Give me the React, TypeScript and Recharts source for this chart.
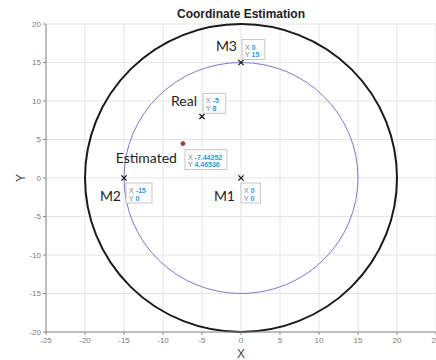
import { ScatterChart, Scatter, XAxis, YAxis, CartesianGrid, ReferenceArea, Label } from 'recharts';

const xTicks = [-25, -20, -15, -10, -5, 0, 5, 10, 15, 20, 25];
const yTicks = [-20, -15, -10, -5, 0, 5, 10, 15, 20];

// microphones + real source position
const markerNames = ['M1', 'M2', 'M3', 'Real'];
const markerX = [0, -15, 0, -5];
const markerY = [0, 0, 15, 8];

// estimated source position
const estimatedNames = ['Estimated'];
const estimatedX = [-7.44252];
const estimatedY = [4.46536];

// range circles centred on the origin
const circleRadii = [20, 15];
const CIRCLE_STYLE = [
  { stroke: '#1a1a1a', width: 2 },
  { stroke: '#7c7ad0', width: 1 },
];

// pixel offsets of text label (right edge) and datatip box from the marker
const PLACEMENT: Record<string, { lx: number; ly: number; tx: number; ty: number }> = {
  M1: { lx: -6, ly: 17, tx: 0, ty: 5 },
  M2: { lx: -3, ly: 17, tx: 2, ty: 5 },
  M3: { lx: -4, ly: -17, tx: 1, ty: -23 },
  Real: { lx: -5, ly: -16, tx: 1, ty: -23 },
  Estimated: { lx: -6, ly: 14, tx: 2, ty: 6 },
};

const markers = markerNames.map((name, i) => ({ name, x: markerX[i], y: markerY[i] }));
const estimated = estimatedNames.map((name, i) => ({ name, x: estimatedX[i], y: estimatedY[i] }));

function Datatip({ x, y, vx, vy }: { x: number; y: number; vx: number; vy: number }) {
  const sx = String(vx);
  const sy = String(vy);
  const chars = Math.max(sx.length, sy.length) + 2;
  const w = 10 + chars * 3.2;
  const h = 20;
  return (
    <g fontFamily="Liberation Sans, Arial, sans-serif" fontSize={7}>
      <rect x={x} y={y} width={w} height={h} fill="#fbfbfb" stroke="#c8c8c8" strokeWidth={1} />
      <text x={x + 3} y={y + 7} dominantBaseline="central">
        <tspan fill="#8a8a8a">X </tspan>
        <tspan fill="#2a9fe0" fontWeight="bold">{sx}</tspan>
      </text>
      <text x={x + 3} y={y + 14.5} dominantBaseline="central">
        <tspan fill="#8a8a8a">Y </tspan>
        <tspan fill="#2a9fe0" fontWeight="bold">{sy}</tspan>
      </text>
    </g>
  );
}

function Annotated({ cx, cy, payload, children }: any) {
  const p = PLACEMENT[payload.name];
  return (
    <g>
      {children}
      <text
        x={cx + p.lx}
        y={cy + p.ly}
        textAnchor="end"
        dominantBaseline="central"
        fontFamily="Lato, sans-serif"
        fontSize={14}
        fill="#1e1e1e"
      >
        {payload.name}
      </text>
      <Datatip x={cx + p.tx} y={cy + p.ty} vx={payload.x} vy={payload.y} />
    </g>
  );
}

function CrossShape(props: any) {
  const { cx, cy } = props;
  const s = 2.6;
  return (
    <Annotated {...props}>
      <path d={`M${cx - s},${cy - s}L${cx + s},${cy + s}M${cx - s},${cy + s}L${cx + s},${cy - s}`} stroke="#111" strokeWidth={1.2} />
    </Annotated>
  );
}

function StarShape(props: any) {
  const { cx, cy } = props;
  return (
    <Annotated {...props}>
      <circle cx={cx} cy={cy} r={2} fill="#b83a3a" stroke="#7a1a1a" strokeWidth={0.7} />
    </Annotated>
  );
}

const tick = { fontSize: 8, fill: '#7a7a7a', fontFamily: 'Liberation Sans, Arial, sans-serif' };

export default function App() {
  return (
    <div style={{ position: 'absolute', left: 0, top: 0, width: 436, height: 360, overflow: 'hidden', background: '#fff' }}>
      <div
        style={{
          position: 'absolute',
          left: 46,
          width: 390,
          top: 7,
          textAlign: 'center',
          fontFamily: 'Liberation Sans, Arial, sans-serif',
          fontWeight: 'bold',
          fontSize: 12,
          lineHeight: '14px',
          color: '#222',
        }}
      >
        Coordinate Estimation
      </div>
      <ScatterChart width={446} height={360} margin={{ top: 24, right: 10, bottom: 0, left: 0 }}>
        <CartesianGrid stroke="#e4e4e4" strokeWidth={1} />
        <XAxis
          type="number"
          dataKey="x"
          domain={[-25, 25]}
          ticks={xTicks}
          tick={tick}
          height={28}
          stroke="#8a8a8a"
          tickSize={3}
          tickMargin={2}
        >
          <Label value="X" position="insideBottom" offset={2} style={{ fontSize: 12, fill: '#444', fontFamily: 'Liberation Sans, Arial, sans-serif' }} />
        </XAxis>
        <YAxis
          type="number"
          dataKey="y"
          domain={[-20, 20]}
          ticks={yTicks}
          tick={tick}
          width={46}
          stroke="#8a8a8a"
          tickSize={3}
          tickMargin={2}
        >
          <Label value="Y" angle={-90} position="center" dx={-2} style={{ fontSize: 12, fill: '#444', fontFamily: 'Liberation Sans, Arial, sans-serif' }} />
        </YAxis>
        {circleRadii.map((r, i) => (
          <ReferenceArea
            key={r}
            x1={-r}
            x2={r}
            y1={-r}
            y2={r}
            shape={(p: any) => (
              <ellipse
                cx={p.x + p.width / 2}
                cy={p.y + p.height / 2}
                rx={Math.abs(p.width) / 2}
                ry={Math.abs(p.height) / 2}
                fill="none"
                stroke={CIRCLE_STYLE[i].stroke}
                strokeWidth={CIRCLE_STYLE[i].width}
              />
            )}
          />
        ))}
        <Scatter data={markers} shape={CrossShape} isAnimationActive={false} />
        <Scatter data={estimated} shape={StarShape} isAnimationActive={false} />
      </ScatterChart>
    </div>
  );
}
